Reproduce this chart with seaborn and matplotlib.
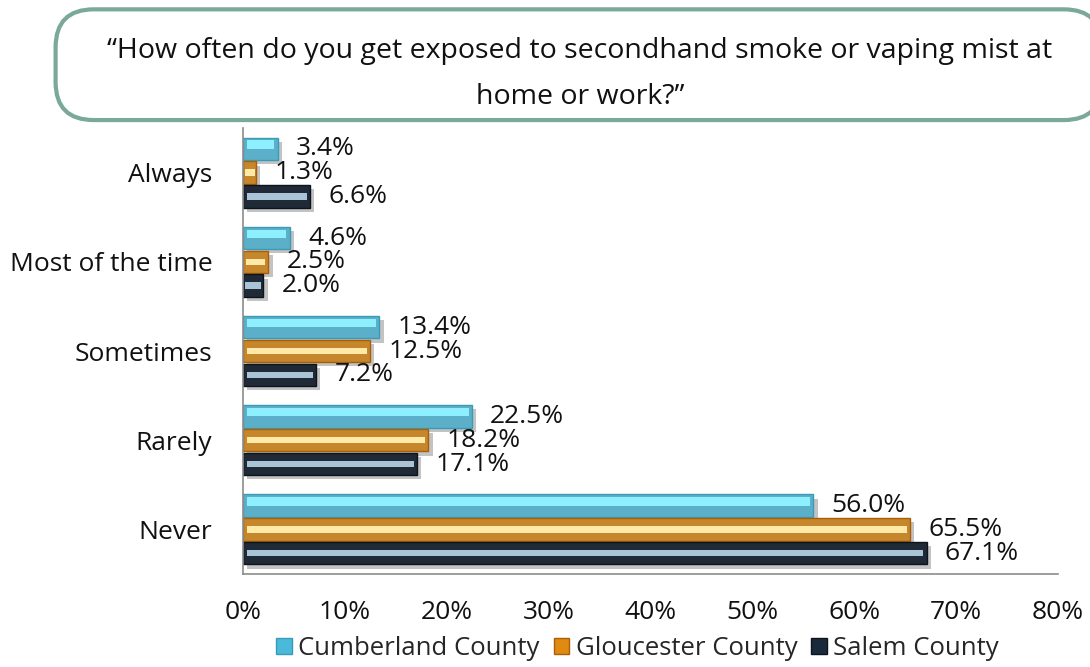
import numpy as np
import pandas as pd
import matplotlib
matplotlib.use("Agg")
import matplotlib.pyplot as plt
import matplotlib.patheffects as pe
from matplotlib.patches import FancyBboxPatch, Rectangle
from matplotlib.ticker import PercentFormatter
import seaborn as sns

# data
answers = ["Always", "Most of the time", "Sometimes", "Rarely", "Never"]
counties = ["Cumberland County", "Gloucester County", "Salem County"]
cumberland = [3.4, 4.6, 13.4, 22.5, 56.0]
gloucester = [1.3, 2.5, 12.5, 18.2, 65.5]
salem = [6.6, 2.0, 7.2, 17.1, 67.1]

question = ["\u201cHow often do you get exposed to secondhand smoke or vaping mist at",
            "home or work?\u201d"]

base_colors = ["#4ab9da", "#e08a12", "#1b2a3a"]
shine_colors = ["#8eefff", "#ffe9a6", "#a9c4d6"]
edge_colors = ["#3a9bb8", "#a85f08", "#0c141d"]


def build_frame():
    rows = []
    for county, vals in zip(counties, [cumberland, gloucester, salem]):
        for ans, v in zip(answers, vals):
            rows.append({"answer": ans, "county": county, "pct": v})
    return pd.DataFrame(rows)


def main():
    sns.set_theme(style="white")
    plt.rcParams["font.family"] = ["Open Sans", "DejaVu Sans"]

    df = build_frame()
    fig = plt.figure(figsize=(10.9, 6.67), dpi=100)
    ax = fig.add_axes([0.2229, 0.1394, 0.7477, 0.6687])

    sns.barplot(data=df, y="answer", x="pct", hue="county", order=answers,
                hue_order=counties, palette=base_colors, orient="h",
                width=0.8, gap=0.06, ax=ax, legend=False)

    # bevel-ish look: shadow + light stripe inside each bar
    for i, container in enumerate(ax.containers):
        for bar in container:
            bar.set_edgecolor(edge_colors[i])
            bar.set_linewidth(1.0)
            bar.set_path_effects([pe.SimplePatchShadow(offset=(3, -3), alpha=0.35,
                                                       shadow_rgbFace="#555555"),
                                  pe.Normal()])
            x0, y0 = bar.get_x(), bar.get_y()
            w, h = bar.get_width(), bar.get_height()
            inset_x = min(0.35, w * 0.12)
            if i == 0:
                stripe = Rectangle((x0 + inset_x, y0 + h * 0.12), w - 2 * inset_x, h * 0.38,
                                   facecolor=shine_colors[i], linewidth=0)
            else:
                stripe = Rectangle((x0 + inset_x, y0 + h * 0.36), w - 2 * inset_x, h * 0.28,
                                   facecolor=shine_colors[i], linewidth=0)
            ax.add_patch(stripe)
        ax.bar_label(container, labels=[f"{v:.1f}%" for v in container.datavalues],
                     padding=13, fontsize=19, color="#111111")

    ax.set_xlim(0, 80)
    ax.set_xticks(np.arange(0, 81, 10))
    ax.xaxis.set_major_formatter(PercentFormatter(decimals=0))
    ax.set_xlabel("")
    ax.set_ylabel("")
    ax.tick_params(axis="x", length=0, pad=19, labelsize=19, labelcolor="#111111")
    ax.tick_params(axis="y", length=0, pad=22, labelsize=19, labelcolor="#111111")
    for side in ["top", "right"]:
        ax.spines[side].set_visible(False)
    for side in ["left", "bottom"]:
        ax.spines[side].set_color("#8c8c8c")
        ax.spines[side].set_linewidth(1.2)

    # legend
    handles = [Rectangle((0, 0), 1, 1, facecolor=c, edgecolor=e, linewidth=1)
               for c, e in zip(base_colors, edge_colors)]
    fig.legend(handles, counties, loc="lower center", bbox_to_anchor=(0.585, -0.026),
               ncol=3, frameon=False, fontsize=18.5, handlelength=0.6, handleheight=0.6,
               handletextpad=0.25, columnspacing=0.55)

    # question box
    box = FancyBboxPatch((0.051, 0.82), 0.96, 0.166, transform=fig.transFigure,
                         boxstyle="round,pad=0,rounding_size=0.035",
                         facecolor="white", edgecolor="#7aa89a", linewidth=3,
                         mutation_aspect=1.63)
    fig.patches.append(box)
    fig.text(0.532, 0.923, question[0], ha="center", va="center", fontsize=20.5, color="#111111")
    fig.text(0.532, 0.855, question[1], ha="center", va="center", fontsize=20.5, color="#111111")

    fig.savefig("out.png", dpi=100, facecolor="white")


if __name__ == "__main__":
    main()
